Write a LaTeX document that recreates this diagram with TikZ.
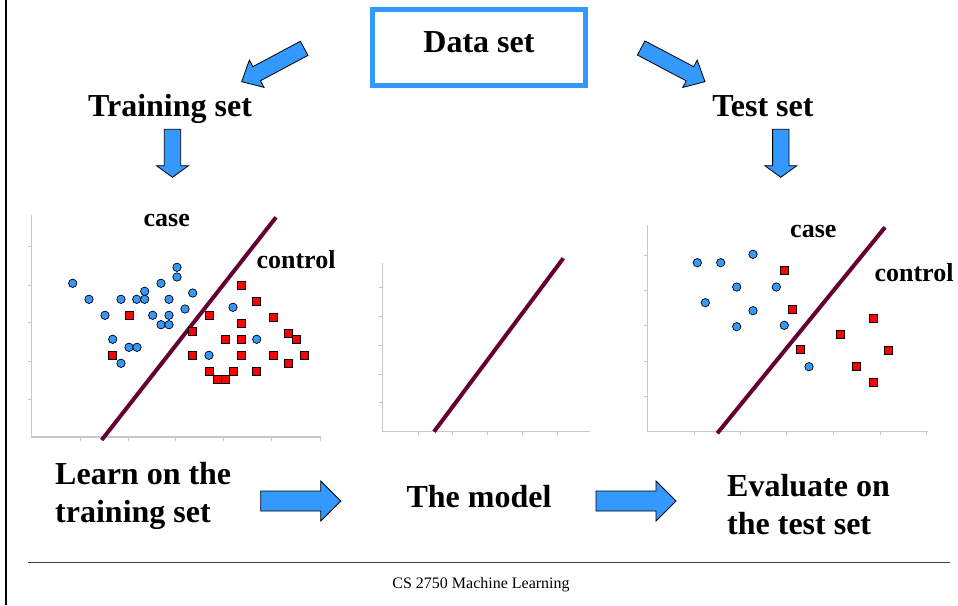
\documentclass[tikz,border=0pt]{standalone}
\usepackage{fontspec}
\setmainfont{Liberation Serif}
\usetikzlibrary{calc}

\definecolor{skyblue}{RGB}{51,153,255}
\definecolor{wine}{RGB}{102,0,51}
\definecolor{axisgray}{RGB}{200,200,200}

\tikzset{
  bigtext/.style={font=\fontsize{32}{38}\selectfont\bfseries, inner sep=0pt},
  labeltext/.style={font=\fontsize{26}{28}\selectfont\bfseries, inner sep=0pt},
  arrowfill/.style={fill=skyblue, draw=black, line width=0.8pt, line join=miter},
  axis/.style={draw=axisgray, line width=1.5pt},
  tick/.style={draw=axisgray, line width=1pt},
  boundary/.style={draw=wine, line width=4pt},
  casept/.style={fill=skyblue, draw=black, line width=0.7pt},
  ctrlpt/.style={fill=red, draw=black, line width=0.7pt},
}

% fat block arrow: tail, tip, half shaft, half head, head length
\newcommand{\blockarrow}[5]{%
  \path ($(#2)!#5!(#1)$) coordinate (headbase);
  \draw[arrowfill] ($(#1)!#3!90:(#2)$) -- ($(headbase)!#3!90:(#2)$)
    -- ($(headbase)!#4!90:(#2)$) -- (#2)
    -- ($(headbase)!#4!-90:(#2)$) -- ($(headbase)!#3!-90:(#2)$)
    -- ($(#1)!#3!-90:(#2)$) -- cycle;}

\begin{document}
\begin{tikzpicture}[x=1pt, y=-1pt]
    \useasboundingbox (0,0) rectangle (958,605);
    \fill[white] (0,0) rectangle (958,605);

    % page frame and footer
    \draw[line width=2pt] (6,0) -- (6,605);
    \draw[line width=1pt, black!75] (28,562) -- (950,562);
    \node[font=\fontsize{16}{18}\selectfont] (footer) at (481,585) {CS 2750 Machine Learning};

    % split of the data
    \node[bigtext, draw=skyblue, line width=5pt, minimum width=213, minimum height=76,
          text height=21.8pt, text depth=11.4pt] (data) at (479,47.5) {Data set};
    \node[bigtext, anchor=base] (train) at (170,116) {Training set};
    \node[bigtext, anchor=base] (test) at (763,116) {Test set};

    \coordinate (split-l-a) at (304.2,48.3);
    \coordinate (split-l-b) at (241.7,81.7);
    \coordinate (split-r-a) at (641.2,48);
    \coordinate (split-r-b) at (705,81.7);
    \coordinate (train-a) at (172.5,129.3);
    \coordinate (train-b) at (172.5,177.3);
    \coordinate (test-a) at (780.8,129.3);
    \coordinate (test-b) at (780.8,177.3);
    \blockarrow{split-l-a}{split-l-b}{8pt}{15.5pt}{17pt}
    \blockarrow{split-r-a}{split-r-b}{8pt}{15.5pt}{17pt}
    \blockarrow{train-a}{train-b}{8.2pt}{16pt}{11.6pt}
    \blockarrow{test-a}{test-b}{8.2pt}{16pt}{11.6pt}

    % training data
    \draw[axis] (31.7,215) -- (31.7,437) -- (321,437);
    \foreach \y in {246.7,285,322.7,361,399}
        \draw[tick] (28.2,\y) -- (31.7,\y);
    \foreach \x in {80,128.3,175,223.3,271.7,320}
        \draw[tick] (\x,437) -- (\x,440.5);
    \draw[boundary] (101.7,440) -- (276,217.3);
    \foreach \x/\y in {72.7/283.3, 89/299.3, 105/315.3, 121/299.3, 136.7/299.3,
                      144.7/291.3, 144.7/299.3, 161/283.3, 177/267.3, 177/277,
                      169/299.3, 152.7/315.3, 169/315.3, 161/324.7, 169/324.7,
                      185/309, 192.7/293, 112.7/339.3, 129/347.3, 137/347.3,
                      121/363.3, 233/307.3, 209/355.3, 256.7/339.3}
        \draw[casept] (\x,\y) circle (4.2pt);
    \foreach \x/\y in {129/315.3, 112.7/355.3, 192.7/331.3, 192.7/355.3, 209/315.3,
                      225/339.3, 241/285, 241/323.3, 241/339.3, 241/355.3,
                      256.7/301, 273/317, 288.7/333, 296.7/339.3, 304.7/355.3,
                      273/355.3, 288.7/363.3, 209/371.3, 217/379.3, 225/379.3,
                      233/371.3, 256.7/371.3}
        \draw[ctrlpt] (\x-4,\y-4) rectangle (\x+4,\y+4);
    \node[labeltext] (case-l) at (166.7,220) {case};
    \node[labeltext] (ctrl-l) at (296,260) {control};

    % the model alone
    \draw[axis] (382.7,263) -- (382.7,431.7) -- (590,431.7);
    \foreach \y in {287.3,316,345,374,402.7}
        \draw[tick] (379.2,\y) -- (382.7,\y);
    \foreach \x in {418.3,452.7,487.3,522.7,557.7}
        \draw[tick] (\x,431.7) -- (\x,435.2);
    \draw[boundary] (434,431.7) -- (563.3,258.3);

    % test data
    \draw[axis] (647.3,225) -- (647.3,431.7) -- (928.3,431.7);
    \foreach \y in {255,290,325.7,361,396.7}
        \draw[tick] (643.8,\y) -- (647.3,\y);
    \foreach \x in {694,740,786.7,833.3,880,926.7}
        \draw[tick] (\x,431.7) -- (\x,435.2);
    \draw[boundary] (717.3,433.3) -- (885,227.3);
    \foreach \x/\y in {697.3/262.7, 720.7/262.7, 753/254.3, 736.7/287, 776.3/287,
                      705.3/302.7, 753/310.7, 736.7/326.7, 784.3/325.3, 809/366.7}
        \draw[casept] (\x,\y) circle (4.2pt);
    \foreach \x/\y in {784.3/270.7, 792.7/309.3, 800.7/349.3, 840.7/334.7,
                      856.7/366.7, 873/318.7, 888.7/350.7, 873/382.7}
        \draw[ctrlpt] (\x-4,\y-4) rectangle (\x+4,\y+4);
    \node[labeltext] (case-r) at (813.3,231.7) {case};
    \node[labeltext] (ctrl-r) at (914,272.7) {control};

    % learn, model, evaluate
    \node[bigtext, align=left, anchor=west] (learn) at (55,496) {Learn on the\\training set};
    \node[bigtext] (model) at (479,497) {The model};
    \node[bigtext, align=left, anchor=west] (eval) at (727,504.5) {Evaluate on\\the test set};
    \coordinate (learn-a) at (260.7,501);
    \coordinate (learn-b) at (340.7,501);
    \coordinate (model-a) at (596,501);
    \coordinate (model-b) at (676,501);
    \blockarrow{learn-a}{learn-b}{10pt}{20pt}{20pt}
    \blockarrow{model-a}{model-b}{10pt}{20pt}{20pt}
\end{tikzpicture}
\end{document}
